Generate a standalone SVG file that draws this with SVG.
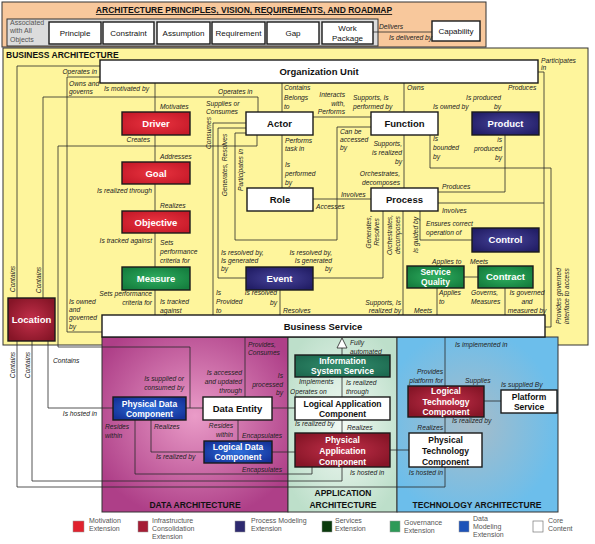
<svg xmlns="http://www.w3.org/2000/svg" width="595" height="544" viewBox="0 0 595 544">
<defs>
<radialGradient id="gRed" cx="50%" cy="50%" r="60%"><stop offset="0" stop-color="#EA3440"/><stop offset="1" stop-color="#C61A29"/></radialGradient>
<radialGradient id="gDRed" cx="50%" cy="50%" r="60%"><stop offset="0" stop-color="#C3304A"/><stop offset="1" stop-color="#861527"/></radialGradient>
<radialGradient id="gNavy" cx="50%" cy="50%" r="60%"><stop offset="0" stop-color="#48449A"/><stop offset="1" stop-color="#221E66"/></radialGradient>
<radialGradient id="gGreen" cx="50%" cy="50%" r="60%"><stop offset="0" stop-color="#2FAE60"/><stop offset="1" stop-color="#157E3E"/></radialGradient>
<radialGradient id="gTeal" cx="50%" cy="50%" r="60%"><stop offset="0" stop-color="#338E6E"/><stop offset="1" stop-color="#1D6A50"/></radialGradient>
<radialGradient id="gBlue" cx="50%" cy="50%" r="60%"><stop offset="0" stop-color="#2E70DC"/><stop offset="1" stop-color="#15339A"/></radialGradient>
<radialGradient id="gData" cx="50%" cy="45%" r="60%"><stop offset="0" stop-color="#EA9CC8"/><stop offset="1" stop-color="#AE3F88"/></radialGradient>
<radialGradient id="gApp" cx="50%" cy="50%" r="60%"><stop offset="0" stop-color="#F2F9F4"/><stop offset="1" stop-color="#BDDFCA"/></radialGradient>
<radialGradient id="gTech" cx="45%" cy="50%" r="55%"><stop offset="0" stop-color="#A8BCC8"/><stop offset="1" stop-color="#6CBEEB"/></radialGradient>
</defs>
<style>
text{font-family:"Liberation Sans",Arial,sans-serif}
.nd{stroke:#1a1a1a;stroke-width:1.4}
.w{fill:#fff}
.c{fill:none;stroke:#2a2a2a;stroke-width:0.8}
.t{font-size:9.5px;font-weight:bold;text-anchor:middle;fill:#111}
.tb{font-size:8.5px;font-weight:bold;text-anchor:middle;fill:#111}
.tw{fill:#fff}
.tp{font-size:8px;text-anchor:middle;fill:#111}
.l{font-size:6.7px;font-style:italic;fill:#222}
.e{text-anchor:end}
.m{text-anchor:middle}
.h{font-size:8.5px;font-weight:bold;fill:#111}
.lg{font-size:7px;fill:#555}
</style>

<!-- Top band -->
<g id="principles">
<rect x="2" y="2" width="484" height="45" fill="#F8C89C" stroke="#333" stroke-width="1"/>
<text x="244" y="13" class="h" text-anchor="middle" text-decoration="underline" font-size="8">ARCHITECTURE PRINCIPLES, VISION, REQUIREMENTS, AND ROADMAP</text>
<rect x="7" y="19" width="371" height="27" fill="#DCDCDC" stroke="#333" stroke-width="1"/>
<text x="10" y="25" class="lg" font-size="6.5">Associated</text>
<text x="10" y="33" class="lg" font-size="6.5">with All</text>
<text x="10" y="42" class="lg" font-size="6.5">Objects</text>
</g>
<g id="principle"><rect x="49" y="22" width="52" height="22" class="nd w"/><text x="75" y="36" class="tp">Principle</text></g>
<g id="constraint"><rect x="103" y="22" width="51" height="22" class="nd w"/><text x="128.5" y="36" class="tp">Constraint</text></g>
<g id="assumption"><rect x="157" y="22" width="53" height="22" class="nd w"/><text x="183.5" y="36" class="tp">Assumption</text></g>
<g id="requirement"><rect x="212" y="22" width="53" height="22" class="nd w"/><text x="238.5" y="36" class="tp">Requirement</text></g>
<g id="gap"><rect x="267" y="22" width="52" height="22" class="nd w"/><text x="293" y="36" class="tp">Gap</text></g>
<g id="workpackage"><rect x="322" y="22" width="51" height="22" class="nd w"/><text x="347.5" y="31" class="tp">Work</text><text x="347.5" y="41" class="tp">Package</text></g>
<g id="capability"><rect x="432" y="21" width="48" height="20" class="nd w"/><text x="456" y="34" class="tp">Capability</text></g>

<!-- Business architecture background -->
<g id="business-architecture">
<rect x="3" y="48" width="585" height="297" fill="#FEF59C" stroke="#333" stroke-width="1"/>
<text x="6" y="58" class="h" font-size="8">BUSINESS ARCHITECTURE</text>
</g>

<!-- Lower area backgrounds -->
<g id="data-architecture">
<rect x="102" y="337" width="186" height="175" fill="url(#gData)" stroke="#333" stroke-width="1"/>
<text x="195" y="508" class="h" text-anchor="middle">DATA ARCHITECTURE</text>
</g>
<g id="application-architecture">
<rect x="288" y="337" width="109" height="175" fill="url(#gApp)" stroke="#333" stroke-width="1"/>
<text x="343" y="496" class="h" text-anchor="middle">APPLICATION</text>
<text x="343" y="508" class="h" text-anchor="middle">ARCHITECTURE</text>
</g>
<g id="technology-architecture">
<rect x="397" y="337" width="161" height="175" fill="url(#gTech)" stroke="#333" stroke-width="1"/>
<text x="477" y="508" class="h" text-anchor="middle">TECHNOLOGY ARCHITECTURE</text>
</g>

<!-- Connectors -->
<g id="connectors" class="c">
<polyline points="373,32 432,32"/>
<polyline points="100,66 17,66 17,298"/>
<polyline points="43,298 43,97 258,97 258,112"/>
<polyline points="100,77 67,77 67,332 102,332"/>
<polyline points="257,135 257,146 58,146 58,347 190,347 190,408"/>
<polyline points="155,83 155,112"/>
<polyline points="155,135 155,162"/>
<polyline points="155,184 155,211"/>
<polyline points="155,233 155,267"/>
<polyline points="155,290 155,315"/>
<polyline points="246,123 213,123 213,315"/>
<polyline points="246,128 218,128 218,278 246,278"/>
<polyline points="371,127 337,127 337,240 235,240 235,133 246,133"/>
<polyline points="282,83 282,112"/>
<polyline points="282,135 282,188"/>
<polyline points="313,117 371,117"/>
<polyline points="404,83 404,112"/>
<polyline points="404,135 404,188"/>
<polyline points="313,199 371,199"/>
<polyline points="430,135 430,168 551,168 551,327 545,327"/>
<polyline points="505,135 505,192 438,192"/>
<polyline points="538,72 544,72 544,315"/>
<polyline points="438,203 544,203"/>
<polyline points="420,211 420,240 472,240"/>
<polyline points="383,211 383,278 313,278"/>
<polyline points="403,211 403,315"/>
<polyline points="280,290 280,315"/>
<polyline points="464,277 478,277"/>
<polyline points="437,288 437,315"/>
<polyline points="505,288 505,315"/>
<polyline points="17,341 17,487 445,487 445,467"/>
<polyline points="32,341 32,481 342,481 342,467"/>
<polyline points="48,341 48,408 113,408"/>
<polyline points="186,408 203,408"/>
<polyline points="245,337 245,397"/>
<polyline points="272,408 295,408"/>
<polyline points="342,348 342,355"/>
<polygon points="337,348 342,338 347,348" fill="#fff" stroke="#222" stroke-width="0.8"/>
<polyline points="342,377 342,397"/>
<polyline points="342,420 342,433"/>
<polyline points="135,420 135,474 312,474 312,467"/>
<polyline points="151,420 151,452 204,452"/>
<polyline points="238,420 238,441"/>
<polyline points="272,452 295,452"/>
<polyline points="390,450 409,450"/>
<polyline points="445,337 445,386"/>
<polyline points="445,417 445,433"/>
<polyline points="484,401 501,401"/>
</g>

<!-- Business nodes -->
<g id="orgunit"><rect x="100" y="60" width="438" height="23" class="nd w"/><text x="319" y="75" class="t">Organization Unit</text></g>
<g id="driver"><rect x="122" y="112" width="68" height="23" class="nd" fill="url(#gRed)"/><text x="156" y="127" class="t tw">Driver</text></g>
<g id="goal"><rect x="122" y="162" width="68" height="22" class="nd" fill="url(#gRed)"/><text x="156" y="176.5" class="t tw">Goal</text></g>
<g id="objective"><rect x="122" y="211" width="68" height="22" class="nd" fill="url(#gRed)"/><text x="156" y="225.5" class="t tw">Objective</text></g>
<g id="measure"><rect x="122" y="267" width="68" height="23" class="nd" fill="url(#gGreen)"/><text x="156" y="282" class="t tw">Measure</text></g>
<g id="actor"><rect x="246" y="112" width="67" height="23" class="nd w"/><text x="279.5" y="127" class="t">Actor</text></g>
<g id="role"><rect x="247" y="188" width="66" height="23" class="nd w"/><text x="280" y="203" class="t">Role</text></g>
<g id="event"><rect x="246" y="267" width="67" height="23" class="nd" fill="url(#gNavy)"/><text x="279.5" y="282" class="t tw">Event</text></g>
<g id="function"><rect x="371" y="112" width="67" height="23" class="nd w"/><text x="404.5" y="127" class="t">Function</text></g>
<g id="process"><rect x="371" y="188" width="67" height="23" class="nd w"/><text x="404.5" y="203" class="t">Process</text></g>
<g id="product"><rect x="472" y="112" width="67" height="23" class="nd" fill="url(#gNavy)"/><text x="505.5" y="127" class="t tw">Product</text></g>
<g id="control"><rect x="472" y="228" width="67" height="24" class="nd" fill="url(#gNavy)"/><text x="505.5" y="243" class="t tw">Control</text></g>
<g id="servicequality"><rect x="407" y="266" width="57" height="22" class="nd" fill="url(#gGreen)"/><text x="435.5" y="275" class="tb tw">Service</text><text x="435.5" y="285" class="tb tw">Quality</text></g>
<g id="contract"><rect x="478" y="266" width="55" height="22" class="nd" fill="url(#gGreen)"/><text x="505.5" y="280" class="t tw">Contract</text></g>
<g id="location"><rect x="8" y="298" width="47" height="43" class="nd" fill="url(#gDRed)"/><text x="31.5" y="323" class="t tw">Location</text></g>
<g id="businessservice"><rect x="102" y="315" width="443" height="22" class="nd w"/><text x="323" y="330" class="t">Business Service</text></g>

<!-- Data / Application / Technology nodes -->
<g id="physicaldatacomponent"><rect x="113" y="397" width="73" height="23" class="nd" fill="url(#gBlue)"/><text x="149.5" y="406.5" class="tb tw">Physical Data</text><text x="149.5" y="416.5" class="tb tw">Component</text></g>
<g id="dataentity"><rect x="203" y="397" width="69" height="23" class="nd w"/><text x="237.5" y="412" class="t">Data Entity</text></g>
<g id="logicaldatacomponent"><rect x="204" y="441" width="68" height="22" class="nd" fill="url(#gBlue)"/><text x="238" y="450" class="tb tw">Logical Data</text><text x="238" y="460" class="tb tw">Component</text></g>
<g id="informationsystemservice"><rect x="295" y="355" width="95" height="22" class="nd" fill="url(#gTeal)"/><text x="342.5" y="364" class="tb tw">Information</text><text x="342.5" y="374" class="tb tw">System Service</text></g>
<g id="logicalapplicationcomponent"><rect x="295" y="397" width="95" height="23" class="nd w"/><text x="342.5" y="406.5" class="tb">Logical Application</text><text x="342.5" y="416.5" class="tb">Component</text></g>
<g id="physicalapplicationcomponent"><rect x="295" y="433" width="95" height="34" class="nd" fill="url(#gDRed)"/><text x="342.5" y="443" class="tb tw">Physical</text><text x="342.5" y="454" class="tb tw">Application</text><text x="342.5" y="465" class="tb tw">Component</text></g>
<g id="logicaltechnologycomponent"><rect x="408" y="386" width="76" height="31" class="nd" fill="url(#gDRed)"/><text x="446" y="394" class="tb tw">Logical</text><text x="446" y="404.5" class="tb tw">Technology</text><text x="446" y="415" class="tb tw">Component</text></g>
<g id="platformservice"><rect x="501" y="390" width="56" height="23" class="nd w"/><text x="529" y="399.5" class="tb">Platform</text><text x="529" y="410" class="tb">Service</text></g>
<g id="physicaltechnologycomponent"><rect x="409" y="433" width="73" height="34" class="nd w"/><text x="445.5" y="443" class="tb">Physical</text><text x="445.5" y="454" class="tb">Technology</text><text x="445.5" y="465" class="tb">Component</text></g>

<!-- Connector labels -->
<g id="labels" class="l">
<text x="379" y="29">Delivers</text>
<text x="389" y="40">Is delivered by</text>
<text x="97" y="74" class="e">Operates in</text>
<text x="69" y="86">Owns and</text>
<text x="69" y="94">governs</text>
<text x="104" y="91">Is motivated by</text>
<text x="160" y="109">Motivates</text>
<text x="150" y="142" class="e">Creates</text>
<text x="160" y="159">Addresses</text>
<text x="152" y="193" class="e">Is realized through</text>
<text x="160" y="208">Realizes</text>
<text x="152" y="243" class="e">Is tracked against</text>
<text x="160" y="245">Sets</text>
<text x="160" y="254">performance</text>
<text x="160" y="263">criteria for</text>
<text x="152" y="296" class="e">Sets performance</text>
<text x="152" y="305" class="e">criteria for</text>
<text x="160" y="304">Is tracked</text>
<text x="160" y="313">against</text>
<text x="69" y="304">Is owned</text>
<text x="69" y="312">and</text>
<text x="69" y="320">governed</text>
<text x="69" y="329">by</text>
<text transform="translate(15,279) rotate(-90)" class="m">Contains</text>
<text transform="translate(41,280) rotate(-90)" class="m">Contains</text>
<text x="218" y="94">Operates in</text>
<text x="206" y="106">Supplies or</text>
<text x="206" y="114">Consumes</text>
<text transform="translate(211,133) rotate(-90)" class="m">Consumes</text>
<text transform="translate(227,165) rotate(-90)" class="m">Generates, Resolves</text>
<text transform="translate(243,170) rotate(-90)" class="m">Participates in</text>
<text x="284" y="90">Contains</text>
<text x="284" y="100">Belongs</text>
<text x="284" y="109">to</text>
<text x="345" y="97" class="e">Interacts</text>
<text x="345" y="106" class="e">with,</text>
<text x="345" y="114" class="e">Performs</text>
<text x="353" y="100">Supports, Is</text>
<text x="353" y="109">performed by</text>
<text x="285" y="143">Performs</text>
<text x="285" y="151">task in</text>
<text x="285" y="167">Is</text>
<text x="285" y="176">performed</text>
<text x="285" y="185">by</text>
<text x="340" y="134">Can be</text>
<text x="340" y="142">accessed</text>
<text x="340" y="150">by</text>
<text x="402" y="146" class="e">Supports,</text>
<text x="402" y="155" class="e">is realized</text>
<text x="402" y="164" class="e">by</text>
<text x="400" y="176" class="e">Orchestrates,</text>
<text x="400" y="185" class="e">decomposes</text>
<text x="341" y="197">Involves</text>
<text x="316" y="209">Accesses</text>
<text x="407" y="90">Owns</text>
<text x="433" y="109">Is owned by</text>
<text x="501" y="100" class="e">Is produced</text>
<text x="501" y="109" class="e">by</text>
<text x="508" y="90">Produces</text>
<text x="541" y="63">Participates</text>
<text x="541" y="70">in</text>
<text x="433" y="141">Is</text>
<text x="433" y="150">bounded</text>
<text x="433" y="159">by</text>
<text x="502" y="142" class="e">is</text>
<text x="502" y="151" class="e">produced</text>
<text x="502" y="160" class="e">by</text>
<text x="442" y="189">Produces</text>
<text x="442" y="213">Involves</text>
<text x="426" y="226">Ensures correct</text>
<text x="426" y="235">operation of</text>
<text transform="translate(418,235) rotate(-90)" class="m">Is guided by</text>
<text transform="translate(371,232) rotate(-90)" class="m">Generates,</text>
<text transform="translate(379,232) rotate(-90)" class="m">Resolves</text>
<text transform="translate(392,235) rotate(-90)" class="m">Orchestrates,</text>
<text transform="translate(400,235) rotate(-90)" class="m">decomposes</text>
<text x="432" y="264">Applies to</text>
<text x="470" y="264">Meets</text>
<text x="439" y="295">Applies</text>
<text x="439" y="304">to</text>
<text x="414" y="313">Meets</text>
<text x="471" y="295">Governs,</text>
<text x="471" y="304">Measures</text>
<text x="527" y="295" class="m">Is governed</text>
<text x="527" y="304" class="m">and</text>
<text x="527" y="313" class="m">measured by</text>
<text transform="translate(561,296) rotate(-90)" class="m">Provides governed</text>
<text transform="translate(569,296) rotate(-90)" class="m">interface to access</text>
<text x="401" y="305" class="e">Supports, Is</text>
<text x="401" y="313" class="e">realized by</text>
<text x="221" y="255">Is resolved by,</text>
<text x="221" y="263">Is generated</text>
<text x="221" y="271">by</text>
<text x="332" y="255" class="e">Is resolved by,</text>
<text x="332" y="263" class="e">Is generated</text>
<text x="332" y="271" class="e">by</text>
<text x="216" y="295">Is</text>
<text x="216" y="304">Provided</text>
<text x="216" y="313">to</text>
<text x="277" y="295" class="e">Is resolved</text>
<text x="277" y="305" class="e">by</text>
<text x="283" y="313">Resolves</text>
<text transform="translate(15,365) rotate(-90)" class="m">Contains</text>
<text transform="translate(30,365) rotate(-90)" class="m">Contains</text>
<text x="53" y="363">Contains</text>
<text x="97" y="416" class="e">Is hosted in</text>
<text x="184" y="381" class="e">Is supplied or</text>
<text x="184" y="390" class="e">consumed by</text>
<text x="242" y="375" class="e">Is accessed</text>
<text x="242" y="384" class="e">and updated</text>
<text x="242" y="393" class="e">through</text>
<text x="248" y="347">Provides,</text>
<text x="248" y="355">Consumes</text>
<text x="283" y="378" class="e">Is</text>
<text x="283" y="387" class="e">processed</text>
<text x="283" y="395" class="e">by</text>
<text x="105" y="429">Resides</text>
<text x="105" y="438">within</text>
<text x="154" y="429">Realizes</text>
<text x="233" y="428" class="e">Resides</text>
<text x="233" y="437" class="e">within</text>
<text x="242" y="438">Encapsulates</text>
<text x="156" y="459">Is realized by</text>
<text x="242" y="472">Encapsulates</text>
<text x="350" y="345">Fully</text>
<text x="350" y="354">automated</text>
<text x="299" y="384">Implements</text>
<text x="346" y="385">Is realized</text>
<text x="346" y="394">through</text>
<text x="290" y="394">Operates on</text>
<text x="295" y="426">Is realized by</text>
<text x="347" y="430">Realizes</text>
<text x="350" y="475">Is hosted in</text>
<text x="455" y="347">Is implemented in</text>
<text x="443" y="374" class="e">Provides</text>
<text x="443" y="383" class="e">platform for</text>
<text x="465" y="383">Supplies</text>
<text x="501" y="387">Is supplied By</text>
<text x="452" y="423">Is realized by</text>
<text x="443" y="430" class="e">Realizes</text>
<text x="443" y="475" class="e">Is hosted in</text>
</g>

<!-- Legend -->
<g id="legend">
<rect x="73" y="521" width="11" height="11" fill="#E0222E" stroke="#999" stroke-width="0.5"/>
<text x="89" y="523" class="lg">Motivation</text><text x="89" y="531" class="lg">Extension</text>
<rect x="138" y="521" width="10" height="11" fill="#A51C34" stroke="#999" stroke-width="0.5"/>
<text x="152" y="523" class="lg">Infrastructure</text><text x="152" y="531" class="lg">Consolidation</text><text x="152" y="539" class="lg">Extension</text>
<rect x="235" y="521" width="10" height="11" fill="#2E2A70" stroke="#999" stroke-width="0.5"/>
<text x="251" y="523" class="lg">Process Modeling</text><text x="251" y="531" class="lg">Extension</text>
<rect x="322" y="521" width="10" height="11" fill="#0A3A0C" stroke="#999" stroke-width="0.5"/>
<text x="335" y="523" class="lg">Services</text><text x="335" y="531" class="lg">Extension</text>
<rect x="390" y="521" width="10" height="11" fill="#2E9A58" stroke="#999" stroke-width="0.5"/>
<text x="404" y="525" class="lg">Governance</text><text x="404" y="533" class="lg">Extension</text>
<rect x="459" y="521" width="10" height="11" fill="#1D52B8" stroke="#999" stroke-width="0.5"/>
<text x="473" y="521" class="lg">Data</text><text x="473" y="529" class="lg">Modeling</text><text x="473" y="537" class="lg">Extension</text>
<rect x="533" y="521" width="10" height="11" fill="#fff" stroke="#777" stroke-width="0.7"/>
<text x="548" y="523" class="lg">Core</text><text x="548" y="531" class="lg">Content</text>
</g>
</svg>
